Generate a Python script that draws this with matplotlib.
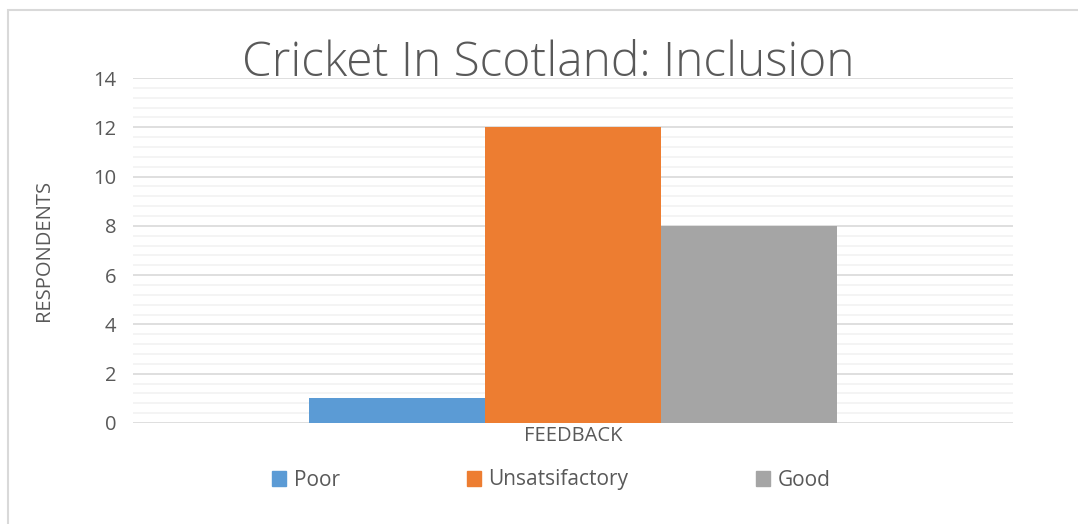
import matplotlib.pyplot as plt
from matplotlib.patches import Patch, Rectangle
import numpy as np

plt.rcParams['font.family'] = ['Open Sans', 'DejaVu Sans']

series = ['Poor', 'Unsatsifactory', 'Good']
values = [1, 12, 8]
colors = ['#5B9BD5', '#ED7D31', '#A5A5A5']
category = 'FEEDBACK'

fig = plt.figure(figsize=(10.78, 5.24), dpi=100)
ax = fig.add_axes([133/1078, 1 - 423/524, 880/1078, 345/524])

# one category, three series side by side
width = 0.2
offsets = (np.arange(len(series)) - 1) * width
for off, val, col, name in zip(offsets, values, colors, series):
    ax.bar(off, val, width=width, color=col, label=name, zorder=3)

ax.set_xlim(-0.5, 0.5)
ax.set_ylim(0, 14)
ax.set_yticks(np.arange(0, 15, 2))
ax.set_yticks(np.arange(0, 14.01, 0.4), minor=True)
ax.set_xticks([])
ax.tick_params(axis='y', which='both', length=0, labelsize=14.5, labelcolor='#595959', pad=12)
ax.grid(axis='y', which='major', color='#D9D9D9', linewidth=1.2, zorder=0)
ax.grid(axis='y', which='minor', color='#F2F2F2', linewidth=1.2, zorder=0)
for s in ax.spines.values():
    s.set_visible(False)

ax.set_ylabel('RESPONDENTS', fontsize=14.5, color='#595959', labelpad=28)
ax.set_xlabel(category, fontsize=14.5, color='#595959', labelpad=2)

fig.text(548/1078, 1 - 64/524, 'Cricket In Scotland: Inclusion', ha='center', va='center',
         fontsize=34.5, fontweight='light', color='#595959')

handles = [Patch(color=c, label=n) for c, n in zip(colors, series)]
fig.legend(handles=handles, loc='center', bbox_to_anchor=(551/1078, 1 - 480/524), ncol=3,
           frameon=False, fontsize=15, labelcolor='#595959', handlelength=0.7, handleheight=0.7,
           handletextpad=0.35, columnspacing=6.1)

# chart border
fig.patches.append(Rectangle((8/1078, -0.05), 1.2, 1 - 10/524 + 0.05, transform=fig.transFigure,
                             fill=False, edgecolor='#D9D9D9', linewidth=1.5))

fig.savefig('out.png', dpi=100)
